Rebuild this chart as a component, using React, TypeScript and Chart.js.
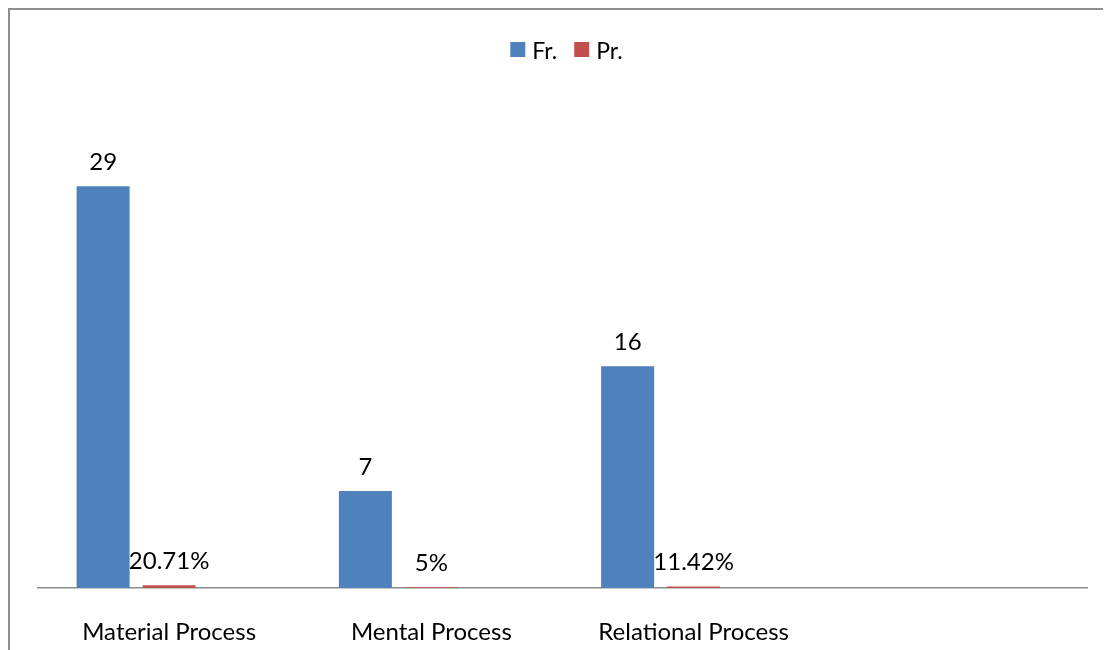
import { useEffect, useRef } from 'react';
import { Chart, registerables } from 'chart.js';

Chart.register(...registerables);

// Process types on the x axis (the last slot is left empty)
const categories = ['Material Process', 'Mental Process', 'Relational Process', ''];
// Frequency of each process type
const frequency: (number | null)[] = [29, 7, 16, null];
// Proportion of each process type (fraction, shown as a percentage)
const proportion: (number | null)[] = [0.2071, 0.05, 0.1142, null];
// Unused third series that keeps its slot in each group
const blankSeries: (number | null)[] = [null, null, null, null];

const seriesNames = ['Fr.', 'Pr.', ''];
const seriesColors = ['#4F81BD', '#C0504D', '#9BBB59'];

const FONT = 'Lato, "Open Sans", sans-serif';

const formatters: ((v: number) => string)[] = [
  (v) => String(v),
  (v) => `${+(v * 100).toFixed(2)}%`,
  (v) => String(v),
];

const valueLabels = {
  id: 'valueLabels',
  afterDatasetsDraw(chart: Chart) {
    const { ctx } = chart;
    ctx.save();
    ctx.fillStyle = '#000';
    ctx.font = `24px ${FONT}`;
    ctx.textAlign = 'center';
    ctx.textBaseline = 'alphabetic';
    chart.data.datasets.forEach((ds, i) => {
      const meta = chart.getDatasetMeta(i);
      meta.data.forEach((bar: any, j: number) => {
        const v = ds.data[j] as number | null;
        if (v == null) return;
        ctx.fillText(formatters[i](v), bar.x, bar.y - 16);
      });
    });
    ctx.restore();
  },
};

const topLegend = {
  id: 'topLegend',
  afterDraw(chart: Chart) {
    const { ctx } = chart;
    const box = 15;
    const gap = 7;
    const spacing = 17;
    ctx.save();
    ctx.font = `23px ${FONT}`;
    ctx.textBaseline = 'alphabetic';
    ctx.textAlign = 'left';
    const items = chart.data.datasets
      .map((ds, i) => ({ label: ds.label as string, color: seriesColors[i] }))
      .filter((it) => it.label);
    const widths = items.map((it) => box + gap + ctx.measureText(it.label).width);
    const total = widths.reduce((a, b) => a + b, 0) + spacing * (items.length - 1);
    const cx = (chart.chartArea.left + chart.chartArea.right) / 2 + 4;
    let x = cx - total / 2;
    const boxTop = 32;
    items.forEach((it, k) => {
      ctx.fillStyle = it.color;
      ctx.fillRect(x, boxTop, box, box);
      ctx.fillStyle = '#000';
      ctx.fillText(it.label, x + box + gap, boxTop + 17);
      x += widths[k] + spacing;
    });
    ctx.restore();
  },
};

export default function App() {
  const canvasRef = useRef<HTMLCanvasElement>(null);

  useEffect(() => {
    document.documentElement.style.overflow = 'hidden';
    document.body.style.overflow = 'hidden';
    const canvas = canvasRef.current;
    if (!canvas) return;
    const datasets = [frequency, proportion, blankSeries].map((data, i) => ({
      label: seriesNames[i],
      data,
      backgroundColor: seriesColors[i],
      borderWidth: 0,
      categoryPercentage: 0.755,
      barPercentage: 0.803,
    }));
    const chart = new Chart(canvas, {
      type: 'bar',
      data: { labels: categories, datasets },
      options: {
        animation: false,
        responsive: false,
        maintainAspectRatio: false,
        layout: { padding: { top: 93, left: 28, right: 24, bottom: 0 } },
        plugins: {
          legend: { display: false },
          tooltip: { enabled: false },
        },
        scales: {
          x: {
            grid: { display: false },
            border: { display: true, color: '#8c8c8c', width: 1.5 },
            ticks: {
              color: '#000',
              font: { family: FONT, size: 24 },
              padding: 22,
              maxRotation: 0,
              autoSkip: false,
            },
            afterFit(scale: any) {
              scale.height = 62;
            },
          },
          y: {
            display: false,
            min: 0,
            max: 35,
          },
        },
      },
      plugins: [valueLabels, topLegend],
    });
    return () => chart.destroy();
  }, []);

  return (
    <div
      style={{
        width: 1101,
        height: 640,
        borderLeft: '2px solid #8e8e8e',
        borderTop: '2px solid #8e8e8e',
        background: '#fff',
      }}
    >
      <canvas ref={canvasRef} width={1101} height={640} style={{ display: 'block' }} />
    </div>
  );
}
